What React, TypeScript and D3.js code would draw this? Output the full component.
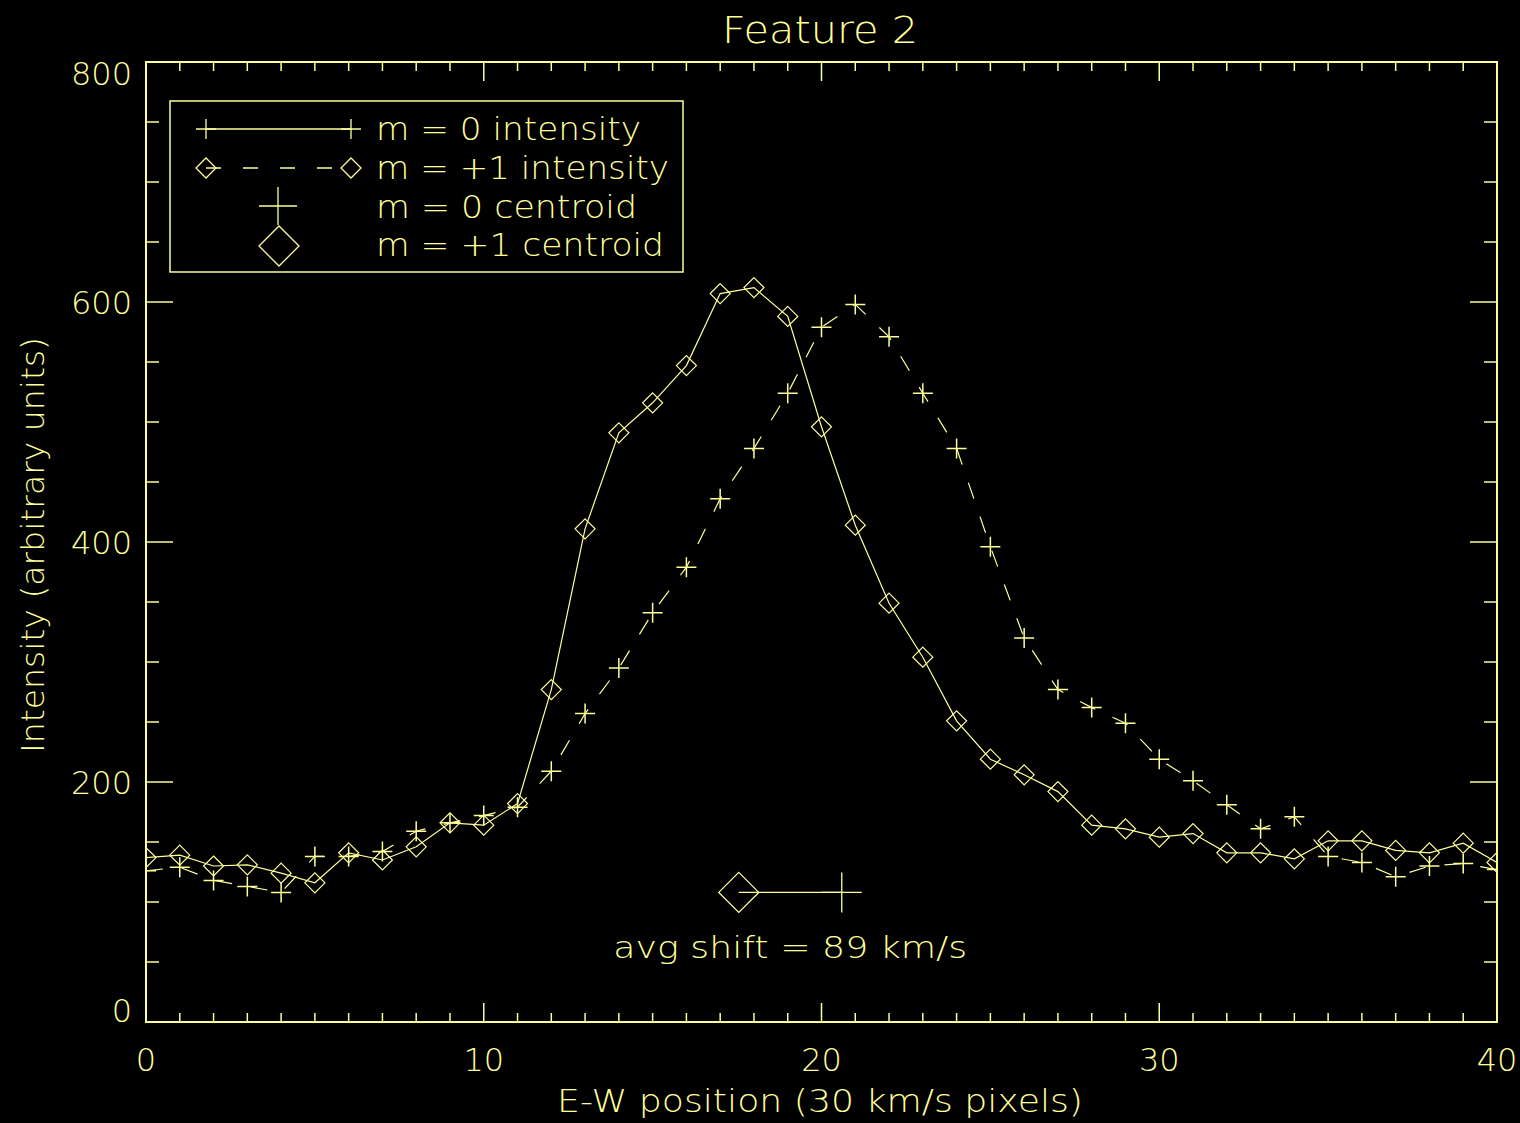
import React from 'react';
import * as d3 from 'd3';

// E-W pixel positions and the two intensity profiles
const positions = [
  0, 1, 2, 3, 4, 5, 6, 7, 8, 9, 10, 11, 12, 13, 14, 15, 16, 17, 18, 19, 20,
  21, 22, 23, 24, 25, 26, 27, 28, 29, 30, 31, 32, 33, 34, 35, 36, 37, 38, 39, 40,
];
// profile drawn with diamonds (solid line)
const diamondIntensity = [
  137, 139, 130, 131, 124, 116, 141, 135, 146, 166, 164, 182, 277, 411, 491, 516, 547, 607, 612, 588, 496,
  414, 349, 304, 251, 219, 206, 192, 164, 161, 154, 157, 141, 141, 136, 151, 151, 143, 141, 149, 133,
];
// profile drawn with pluses (dashed line)
const plusIntensity = [
  126, 129, 118, 113, 108, 138, 138, 142, 159, 166, 172, 179, 209, 257, 295, 341, 379, 436, 478, 524, 579,
  598, 571, 524, 478, 396, 320, 277, 262, 249, 219, 201, 181, 161, 171, 138, 133, 121, 130, 132, 127,
];

const xTicks = [0, 10, 20, 30, 40];
const yTicks = [0, 200, 400, 600, 800];
const legendLabels = ['m = 0 intensity', 'm = +1 intensity', 'm = 0 centroid', 'm = +1 centroid'];

// average centroids (diamond = m=+1, plus = m=0) and the level they are drawn at
const centroidM1 = 17.55;
const centroidM0 = 20.6;
const centroidLevel = 108;
const shiftLabel = 'avg shift = 89 km/s';

const W = 1520;
const H = 1123;
const FG = '#ffff99';
const FONT = '"DejaVu Sans ExtraLight", "DejaVu Sans Light", "DejaVu Sans", "Liberation Sans", sans-serif';

const plusPath = (r: number) => `M${-r},0H${r}M0,${-r}V${r}`;
const diamondPath = (r: number) => `M0,${-r}L${r},0L0,${r}L${-r},0Z`;

export default function App() {
  const left = 146, right = 1497, top = 62, bottom = 1022;
  const x = d3.scaleLinear().domain([0, 40]).range([left, right]);
  const y = d3.scaleLinear().domain([0, 800]).range([bottom, top]);

  const diamondData = positions.map((p, i) => [p, diamondIntensity[i]] as [number, number]);
  const plusData = positions.map((p, i) => [p, plusIntensity[i]] as [number, number]);
  const line = d3.line<[number, number]>().x(d => x(d[0])).y(d => y(d[1]));

  const xMinor = d3.range(0, 41, 1);
  const yMinor = d3.range(0, 801, 50);
  const xLen = (v: number) => (v % 10 === 0 ? 19 : 9);
  const yLen = (v: number) => (v % 200 === 0 ? 27 : 13);

  const txt = {
    fill: FG,
    fontFamily: FONT,
    fontWeight: 200,
  } as const;

  // legend row baselines / sample centres
  const legRows = [129, 168, 206, 246];
  const legBase = [140, 179, 218, 256];
  const legWidths = [265, 293, 261, 288];

  const yLabelBase = (v: number) => (v === 800 ? y(v) + 23 : v === 0 ? y(v) : y(v) + 11.5);

  return (
    <div style={{ position: 'absolute', left: 0, top: 0 }}>
      <svg width={W} height={H} viewBox={`0 0 ${W} ${H}`} style={{ display: 'block', background: '#000' }}>
        <rect x={0} y={0} width={W} height={H} fill="#000" />
        <defs>
          <clipPath id="plotClip">
            <rect x={left} y={top} width={right - left} height={bottom - top} />
          </clipPath>
        </defs>

        {/* title */}
        <text {...txt} x={820} y={43} fontSize={38} textAnchor="middle" textLength={196} lengthAdjust="spacingAndGlyphs">
          Feature 2
        </text>

        {/* frame */}
        <rect x={left} y={top} width={right - left} height={bottom - top} fill="none" stroke={FG} strokeWidth={2} />

        {/* x ticks, bottom and top */}
        {xMinor.map(v => (
          <g key={'xt' + v} stroke={FG} strokeWidth={1.5}>
            <line x1={x(v)} x2={x(v)} y1={bottom} y2={bottom - xLen(v)} />
            <line x1={x(v)} x2={x(v)} y1={top} y2={top + xLen(v)} />
          </g>
        ))}
        {/* y ticks, left and right */}
        {yMinor.map(v => (
          <g key={'yt' + v} stroke={FG} strokeWidth={1.5}>
            <line x1={left} x2={left + yLen(v)} y1={y(v)} y2={y(v)} />
            <line x1={right} x2={right - yLen(v)} y1={y(v)} y2={y(v)} />
          </g>
        ))}

        {xTicks.map(v => (
          <text key={'xl' + v} {...txt} x={x(v)} y={1071} fontSize={32} textAnchor="middle">
            {v}
          </text>
        ))}
        {yTicks.map(v => (
          <text key={'yl' + v} {...txt} x={132} y={yLabelBase(v)} fontSize={32} textAnchor="end">
            {v}
          </text>
        ))}

        {/* axis titles */}
        <text {...txt} x={820} y={1112} fontSize={32} textAnchor="middle" textLength={526} lengthAdjust="spacingAndGlyphs">
          E-W position (30 km/s pixels)
        </text>
        <text
          {...txt}
          transform={`translate(44,545) rotate(-90)`}
          fontSize={32}
          textAnchor="middle"
          textLength={416}
          lengthAdjust="spacingAndGlyphs"
        >
          Intensity (arbitrary units)
        </text>

        {/* data */}
        <g clipPath="url(#plotClip)" fill="none" stroke={FG} strokeWidth={1.2}>
          <path d={line(diamondData) || ''} />
          <path d={line(plusData) || ''} strokeDasharray="17 19" />
          {diamondData.map(d => (
            <path key={'d' + d[0]} d={diamondPath(10)} transform={`translate(${x(d[0])},${y(d[1])})`} />
          ))}
          {plusData.map(d => (
            <path key={'p' + d[0]} d={plusPath(10)} transform={`translate(${x(d[0])},${y(d[1])})`} strokeWidth={1.5} />
          ))}
        </g>

        {/* centroid marker and shift annotation */}
        <g fill="none" stroke={FG} strokeWidth={1.3}>
          <line x1={x(centroidM1)} x2={x(centroidM0)} y1={y(centroidLevel)} y2={y(centroidLevel)} />
          <path d={diamondPath(20)} transform={`translate(${x(centroidM1)},${y(centroidLevel)})`} />
          <path d={plusPath(20)} transform={`translate(${x(centroidM0)},${y(centroidLevel)})`} />
        </g>
        <text
          {...txt}
          x={(x(centroidM1) + x(centroidM0)) / 2}
          y={958}
          fontSize={31}
          textAnchor="middle"
          textLength={354}
          lengthAdjust="spacingAndGlyphs"
        >
          {shiftLabel}
        </text>

        {/* legend */}
        <g>
          <rect x={170} y={101} width={513} height={171} fill="none" stroke={FG} strokeWidth={1.5} />
          <g fill="none" stroke={FG} strokeWidth={1.3}>
            <line x1={206} x2={351} y1={legRows[0]} y2={legRows[0]} />
            <path d={plusPath(10)} transform={`translate(206,${legRows[0]})`} />
            <path d={plusPath(10)} transform={`translate(351,${legRows[0]})`} />

            <line x1={206} x2={351} y1={legRows[1]} y2={legRows[1]} strokeDasharray="15 22" />
            <path d={diamondPath(10)} transform={`translate(206,${legRows[1]})`} />
            <path d={diamondPath(10)} transform={`translate(351,${legRows[1]})`} />

            <path d={plusPath(19)} transform={`translate(278,${legRows[2]})`} />
            <path d={diamondPath(20)} transform={`translate(279,${legRows[3]})`} />
          </g>
          {legendLabels.map((l, i) => (
            <text
              key={l}
              {...txt}
              x={376}
              y={legBase[i]}
              fontSize={32}
              textLength={legWidths[i]}
              lengthAdjust="spacingAndGlyphs"
            >
              {l}
            </text>
          ))}
        </g>
      </svg>
    </div>
  );
}
